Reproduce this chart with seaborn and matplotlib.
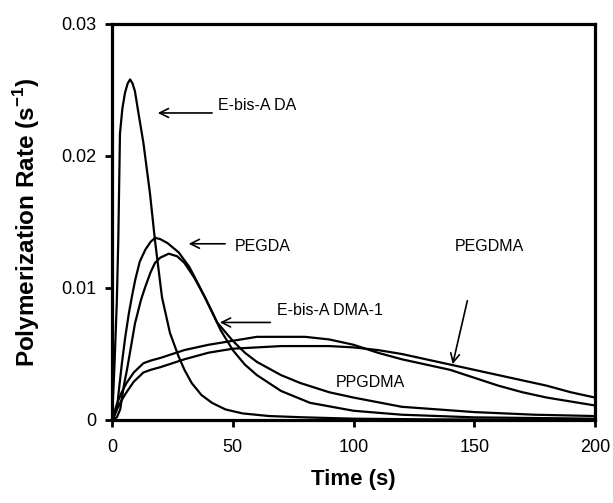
import numpy as np
import pandas as pd
import matplotlib
matplotlib.use("Agg")
import matplotlib.pyplot as plt
import seaborn as sns

# ---------------- data ----------------
da_t = [0, 1, 2, 2.6, 3.3, 4.3, 5.4, 6.5, 7.5, 8.5, 9.5, 11, 13, 15.7, 17.8, 20.7,
        24, 27.6, 30, 33, 37, 41.4, 47, 54, 65, 80, 100, 130, 200]
da_r = [0, 0.004, 0.009, 0.0136, 0.0217, 0.0236, 0.0248, 0.0255, 0.0258, 0.0255,
        0.0249, 0.0232, 0.0210, 0.0172, 0.0136, 0.0093, 0.0066, 0.0048, 0.0038,
        0.0028, 0.0019, 0.0013, 0.0008, 0.0005, 0.0003, 0.0002, 0.0001, 0.00005, 0.0]

pegda_t = [0, 1, 2, 3, 4.1, 5.5, 7, 8.3, 9.6, 11.5, 13.8, 16, 17.9, 20, 23, 27.6,
           32, 36, 41.4, 45, 50, 55, 60, 70, 82, 100, 120, 150, 200]
pegda_r = [0, 0.0003, 0.0008, 0.0025, 0.0043, 0.0063, 0.0081, 0.0094, 0.0106,
           0.0120, 0.0129, 0.0135, 0.0138, 0.0137, 0.0134, 0.0127, 0.0116, 0.0102,
           0.0082, 0.0068, 0.0053, 0.0042, 0.0034, 0.0022, 0.0013, 0.0007, 0.0004,
           0.0002, 0.0001]

dma_t = [0, 2, 3.4, 5, 6.2, 8, 9.5, 12, 13.8, 16, 17.8, 20, 23.5, 27, 30, 34, 38.5,
         43.5, 50, 55, 60, 70, 78, 90, 100, 120, 150, 175, 200]
dma_r = [0, 0.0002, 0.0008, 0.0027, 0.0038, 0.0057, 0.0073, 0.0091, 0.0101, 0.0112,
         0.0119, 0.0123, 0.0126, 0.0124, 0.0119, 0.0108, 0.0093, 0.0074, 0.0060,
         0.0051, 0.0044, 0.0034, 0.0028, 0.0021, 0.0017, 0.0010, 0.0006, 0.0004,
         0.0003]

broad_t = [0, 2, 4, 6, 9, 13, 16, 20, 30, 40, 50, 60, 70, 80, 90, 100, 110, 120,
           130, 140, 150, 160, 170, 180, 190, 200]
ppgdma_r = [0, 0.0012, 0.0021, 0.0028, 0.0036, 0.0043, 0.0045, 0.0047, 0.0053,
            0.0057, 0.0060, 0.0063, 0.0063, 0.0063, 0.0061, 0.0057, 0.0051, 0.0046,
            0.0042, 0.0038, 0.0032, 0.0026, 0.0021, 0.0017, 0.0014, 0.0011]
pegdma_r = [0, 0.0008, 0.0015, 0.0021, 0.0029, 0.0036, 0.0038, 0.0040, 0.0046,
            0.0051, 0.0054, 0.0055, 0.0056, 0.0056, 0.0056, 0.0055, 0.0053, 0.0050,
            0.0046, 0.0042, 0.0038, 0.0034, 0.0030, 0.0026, 0.0021, 0.0017]

x_ticks = [0, 50, 100, 150, 200]
y_ticks = [0, 0.01, 0.02, 0.03]
y_tick_labels = ["0", "0.01", "0.02", "0.03"]

series = {
    "E-bis-A DA": (da_t, da_r),
    "PEGDA": (pegda_t, pegda_r),
    "E-bis-A DMA-1": (dma_t, dma_r),
    "PPGDMA": (broad_t, ppgdma_r),
    "PEGDMA": (broad_t, pegdma_r),
}
df = pd.concat(
    [pd.DataFrame({"t": t, "rate": r, "series": name}) for name, (t, r) in series.items()],
    ignore_index=True,
)

# ---------------- style ----------------
sns.set_theme(style="white")
plt.rcParams["font.family"] = ["Liberation Sans", "DejaVu Sans"]
plt.rcParams["mathtext.fontset"] = "custom"
plt.rcParams["mathtext.rm"] = "Liberation Sans"
plt.rcParams["mathtext.bf"] = "Liberation Sans:bold"
plt.rcParams["text.color"] = "black"
plt.rcParams["axes.labelcolor"] = "black"

fig = plt.figure(figsize=(6.13, 5.03), dpi=100)
ax = fig.add_axes([112 / 613, 83 / 503, 483 / 613, 396 / 503])

sns.lineplot(data=df, x="t", y="rate", hue="series", units="series", estimator=None,
             palette={k: "black" for k in series}, legend=False, lw=1.6, ax=ax,
             sort=False)

ax.set_xlim(0, 200)
ax.set_ylim(0, 0.03)
ax.set_xticks(x_ticks)
ax.set_xticklabels([str(v) for v in x_ticks])
ax.set_yticks(y_ticks)
ax.set_yticklabels(y_tick_labels)

for s in ax.spines.values():
    s.set_linewidth(2.3)
    s.set_color("black")
ax.tick_params(axis="both", direction="out", length=5, width=2, labelsize=13,
               colors="black", bottom=True, left=True)
ax.tick_params(axis="x", pad=9)
ax.tick_params(axis="y", pad=6)

ax.set_xlabel("Time (s)", fontsize=16, fontweight="bold")
ax.set_ylabel(r"Polymerization Rate (s$^{\mathbf{-1}}$)", fontsize=17.5,
              fontweight="bold")
ax.xaxis.set_label_coords(0.5, -0.125)
ax.yaxis.set_label_coords(-0.145, 0.5)

# ---------------- annotations ----------------
arrow = dict(arrowstyle="->", lw=1.2, color="black", mutation_scale=16)
ax.annotate("", xy=(17.8, 0.02326), xytext=(42.6, 0.02326), arrowprops=arrow)
ax.text(44, 0.0238, "E-bis-A DA", fontsize=11.5, va="center", ha="left")

ax.annotate("", xy=(30.6, 0.01335), xytext=(48, 0.01335), arrowprops=arrow)
ax.text(51, 0.01314, "PEGDA", fontsize=11.5, va="center", ha="left")

ax.annotate("", xy=(43.5, 0.00739), xytext=(66.7, 0.00739), arrowprops=arrow)
ax.text(68.3, 0.00826, "E-bis-A DMA-1", fontsize=11.5, va="center", ha="left")

ax.text(142, 0.01314, "PEGDMA", fontsize=11.5, va="center", ha="left")
ax.annotate("", xy=(140.8, 0.00402), xytext=(147.4, 0.00924), arrowprops=arrow)

ax.text(92.8, 0.00286, "PPGDMA", fontsize=11.5, va="center", ha="left")

fig.savefig("out.png", dpi=100)
